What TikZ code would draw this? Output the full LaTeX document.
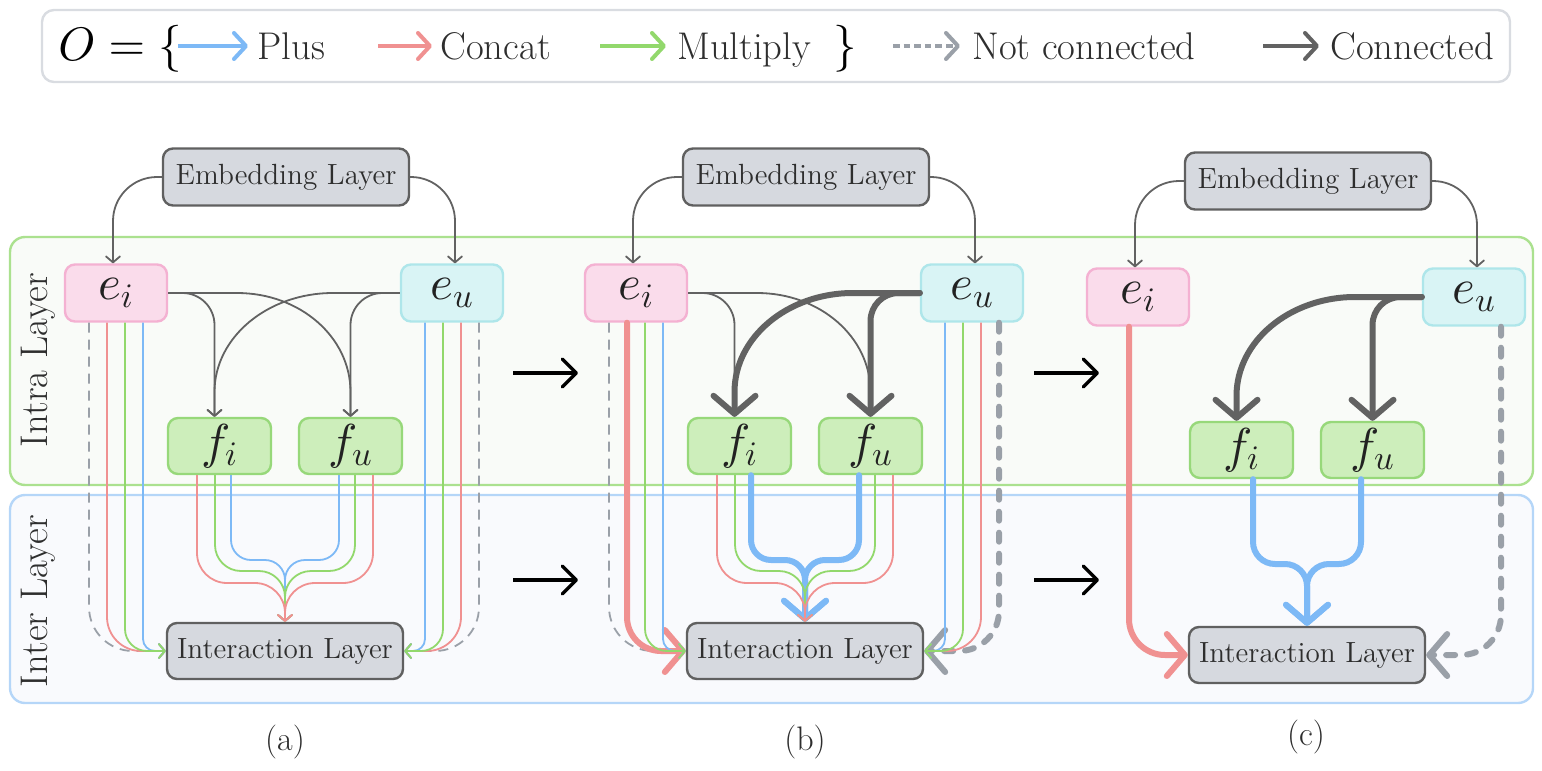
\documentclass[tikz,border=0pt]{standalone}
\usetikzlibrary{arrows.meta}
\DeclareFontShape{OML}{cmm}{m}{it}{<->cmmi10}{}
\DeclareFontShape{OMS}{cmsy}{m}{n}{<->cmsy10}{}
\DeclareFontShape{OT1}{cmr}{m}{n}{<->cmr10}{}
\definecolor{cblue}{HTML}{7DB9F6}
\definecolor{cred}{HTML}{F09191}
\definecolor{cgreen}{HTML}{92D86C}
\definecolor{cdash}{HTML}{9AA0A8}
\definecolor{cdark}{HTML}{626262}
\definecolor{boxgray}{HTML}{D6D9DF}
\definecolor{boxborder}{HTML}{606060}
\definecolor{eifill}{HTML}{FADCEB}
\definecolor{eidraw}{HTML}{F4B1D2}
\definecolor{eufill}{HTML}{D9F4F5}
\definecolor{eudraw}{HTML}{AEE6EA}
\definecolor{ffill}{HTML}{CDEEBB}
\definecolor{fdraw}{HTML}{97D87A}
\definecolor{intradraw}{HTML}{ABE18F}
\definecolor{intrafill}{HTML}{F9FBF8}
\definecolor{interdraw}{HTML}{B5D6F8}
\definecolor{interfill}{HTML}{F9FAFD}
\definecolor{legdraw}{HTML}{D9DCE1}
\definecolor{txt}{HTML}{2E2E2E}
\definecolor{mtxt}{HTML}{222222}

% connector macros (used inside shifted scopes)
\newcommand\pEmbL[2]{\draw[#2,rounded corners=22pt] (#1emb.west) -| ([xshift=-1.5pt]#1ei.north);}
\newcommand\pEmbR[2]{\draw[#2,rounded corners=22pt] (#1emb.east) -| ([xshift=1.5pt]#1eu.north);}
\newcommand\pEiFi[2]{\draw[#2,rounded corners=16pt] (#1ei.east) -| ([xshift=-2.5pt]#1fi.north);}
\newcommand\pEiFu[2]{\draw[#2] (#1ei.east) -- (237,293) .. controls (300,293) and (350.5,337) .. (350.5,392) -- (#1fu.north);}
\newcommand\pEuFu[3]{\draw[#2,rounded corners=#3] (#1eu.west) -| (#1fu.north);}
\newcommand\pEuFi[2]{\draw[#2] (#1eu.west) -- (333,293) .. controls (268,293) and (214.5,337) .. (214.5,392) -- ([xshift=-2.5pt]#1fi.north);}
\newcommand\pEiIl[4]{\draw[#2,rounded corners=#4] ([xshift=#3]#1ei.south) |- (#1il.west);}
\newcommand\pEuIl[4]{\draw[#2,rounded corners=#4] ([xshift=#3]#1eu.south) |- (#1il.east);}
\newcommand\pFIl[6]{\draw[#2,rounded corners=#6] ([xshift=#3]#1#4.south) |- (#1il.north |- 0,#5) -- (#1il.north);}

\begin{document}
\begin{tikzpicture}[x=0.5pt,y=-0.5pt,
 boxbase/.style={rounded corners=5pt,line width=1.2pt,inner sep=0pt,minimum height=28.5pt},
 embbox/.style={boxbase,draw=boxborder,fill=boxgray,minimum width=123pt,text=txt,font=\fontsize{14.6}{16}\selectfont},
 ilbox/.style={embbox,minimum width=118pt,minimum height=28pt},
 mathbox/.style={boxbase,minimum width=51pt,text=mtxt,font=\fontsize{24.5}{28}\selectfont},
 eibox/.style={mathbox,draw=eidraw,fill=eifill},
 eubox/.style={mathbox,draw=eudraw,fill=eufill},
 fnbox/.style={mathbox,draw=fdraw,fill=ffill,minimum width=51.5pt,minimum height=28pt},
 tl/.style={line width=0.9pt,-{Straight Barb[length=3pt,width=7pt,round]}},
 tk/.style={line width=3pt,line cap=round,-{Straight Barb[length=9pt,width=21pt,round]}},
 gl/.style={tl,draw=cdark},
 bl/.style={tl,draw=cblue},
 rl/.style={tl,draw=cred},
 grl/.style={tl,draw=cgreen},
 dl/.style={tl,draw=cdash,dash pattern=on 5pt off 3.5pt},
 gk/.style={tk,draw=cdark},
 bk/.style={tk,draw=cblue},
 rk/.style={tk,draw=cred},
 dk/.style={tk,draw=cdash,dash pattern=on 4.5pt off 6pt},
 legtext/.style={anchor=base west,inner sep=0pt,text=txt,font=\fontsize{19.3}{22}\selectfont},
 legmath/.style={anchor=base west,inner sep=0pt,text=black,font=\fontsize{23.5}{26}\selectfont},
 legarrow/.style={line width=2pt,-{Straight Barb[length=6pt,width=13pt,round]}},
 stagearrow/.style={line width=1.7pt,draw=black,-{Straight Barb[length=7pt,width=14pt,round]}},
 captext/.style={text=txt,font=\fontsize{17}{20}\selectfont},
 sidelabel/.style={rotate=90,text=txt,font=\fontsize{19.3}{22}\selectfont},
]
\useasboundingbox (0,0) rectangle (1542,771);

% ---------- legend ----------
\node[draw=legdraw,fill=white,line width=1.2pt,rounded corners=6pt,minimum width=734pt,minimum height=36pt,inner sep=0pt] (legend) at (776,46) {};
\node[legmath] (lO) at (58,60) {$O=\{$};
\node[legtext] (lplus) at (257,59) {Plus};
\node[legtext] (lconcat) at (440,59) {Concat};
\node[legtext] (lmult) at (677,59) {Multiply};
\node[legmath] (lclose) at (833,60) {$\}$};
\node[legtext] (lnot) at (972,59) {Not connected};
\node[legtext] (lconn) at (1330,59) {Connected};
\coordinate (lb1) at (178,46); \coordinate (lb2) at (248,46);
\coordinate (lr1) at (378,46); \coordinate (lr2) at (432,46);
\coordinate (lg1) at (600,46); \coordinate (lg2) at (666,46);
\coordinate (ld1) at (893,46); \coordinate (ld2) at (960,46);
\coordinate (lk1) at (1263,46); \coordinate (lk2) at (1319,46);
\draw[legarrow,draw=cblue] (lb1) -- (lb2);
\draw[legarrow,draw=cred] (lr1) -- (lr2);
\draw[legarrow,draw=cgreen] (lg1) -- (lg2);
\draw[legarrow,draw=cdash,dash pattern=on 3.3pt off 2pt] (ld1) -- (ld2);
\draw[legarrow,draw=cdark] (lk1) -- (lk2);

% ---------- layer bands ----------
\draw[draw=intradraw,fill=intrafill,line width=1.2pt,rounded corners=7.5pt] (10,237) rectangle (1533,485);
\draw[draw=interdraw,fill=interfill,line width=1.2pt,rounded corners=7.5pt] (10,495) rectangle (1533,703);
\node[sidelabel] (intralab) at (38,360) {Intra Layer};
\node[sidelabel] (interlab) at (38,601) {Inter Layer};

% ---------- nodes of the three panels ----------
\foreach \p/\dx/\dy in {a/0/0,b/520/0,c/1022/4}{
 \begin{scope}[shift={(\dx,\dy)}]
  \node[embbox] (\p emb) at (286,177) {Embedding Layer};
  \node[eibox] (\p ei) at (116,293) {$e_i$};
  \node[eubox] (\p eu) at (452,293) {$e_u$};
  \node[fnbox] (\p fi) at (219.5,446) {$f_i$};
  \node[fnbox] (\p fu) at (350.5,446) {$f_u$};
  \node[ilbox] (\p il) at (285,651) {Interaction Layer};
 \end{scope}
}

% ---------- panel (a) ----------
\begin{scope}
 \pEmbL{a}{gl} \pEmbR{a}{gl}
 \pEiFi{a}{gl} \pEiFu{a}{gl} \pEuFu{a}{gl}{16pt} \pEuFi{a}{gl}
 \pEiIl{a}{dl}{-13.5pt}{22pt}
 \pEiIl{a}{rl}{-4.5pt}{17pt}
 \pEiIl{a}{bl}{13.5pt}{6pt}
 \pEiIl{a}{grl}{4.5pt}{11pt}
 \pEuIl{a}{dl}{13.5pt}{22pt}
 \pEuIl{a}{rl}{4.5pt}{17pt}
 \pEuIl{a}{bl}{-13.5pt}{6pt}
 \pEuIl{a}{grl}{-4.5pt}{11pt}
 \pFIl{a}{bl}{5.75pt}{fi}{560}{10pt}
 \pFIl{a}{bl}{-5.75pt}{fu}{560}{10pt}
 \pFIl{a}{grl}{-2.25pt}{fi}{571}{13pt}
 \pFIl{a}{grl}{2.25pt}{fu}{571}{13pt}
 \pFIl{a}{rl}{-11.25pt}{fi}{583}{15pt}
 \pFIl{a}{rl}{11.25pt}{fu}{583}{15pt}
\end{scope}

% ---------- panel (b) ----------
\begin{scope}[shift={(520,0)}]
 \pEmbL{b}{gl} \pEmbR{b}{gl}
 \pEiFi{b}{gl} \pEiFu{b}{gl}
 \pEuFu{b}{gk}{14pt} \pEuFi{b}{gk}
 \pEiIl{b}{dl}{-13.5pt}{22pt}
 \pEiIl{b}{rk}{-4.5pt}{17pt}
 \pEiIl{b}{bl}{13.5pt}{6pt}
 \pEiIl{b}{grl}{4.5pt}{11pt}
 \pEuIl{b}{dk}{13.5pt}{20pt}
 \pEuIl{b}{rl}{4.5pt}{17pt}
 \pEuIl{b}{bl}{-13.5pt}{6pt}
 \pEuIl{b}{grl}{-4.5pt}{11pt}
 \pFIl{b}{bk}{5.75pt}{fi}{560}{10pt}
 \pFIl{b}{bk}{-5.75pt}{fu}{560}{10pt}
 \pFIl{b}{grl}{-2.25pt}{fi}{571}{13pt}
 \pFIl{b}{grl}{2.25pt}{fu}{571}{13pt}
 \pFIl{b}{rl}{-11.25pt}{fi}{583}{15pt}
 \pFIl{b}{rl}{11.25pt}{fu}{583}{15pt}
\end{scope}

% ---------- panel (c) ----------
\begin{scope}[shift={(1022,4)}]
 \pEmbL{c}{gl} \pEmbR{c}{gl}
 \pEuFu{c}{gk}{14pt} \pEuFi{c}{gk}
 \pEiIl{c}{rk}{-4.5pt}{18pt}
 \pEuIl{c}{dk}{13.5pt}{20pt}
 \pFIl{c}{bk}{5.75pt}{fi}{560}{11pt}
 \pFIl{c}{bk}{-5.75pt}{fu}{560}{11pt}
\end{scope}

% ---------- stage arrows ----------
\coordinate (s1a) at (513,373); \coordinate (s1b) at (578,373);
\coordinate (s2a) at (513,580); \coordinate (s2b) at (578,580);
\coordinate (s3a) at (1034,373); \coordinate (s3b) at (1099,373);
\coordinate (s4a) at (1034,580); \coordinate (s4b) at (1099,580);
\draw[stagearrow] (s1a) -- (s1b);
\draw[stagearrow] (s2a) -- (s2b);
\draw[stagearrow] (s3a) -- (s3b);
\draw[stagearrow] (s4a) -- (s4b);

% ---------- captions ----------
\node[captext] (capa) at (285,742) {(a)};
\node[captext] (capb) at (805,742) {(b)};
\node[captext] (capc) at (1306,737) {(c)};
\end{tikzpicture}
\end{document}
